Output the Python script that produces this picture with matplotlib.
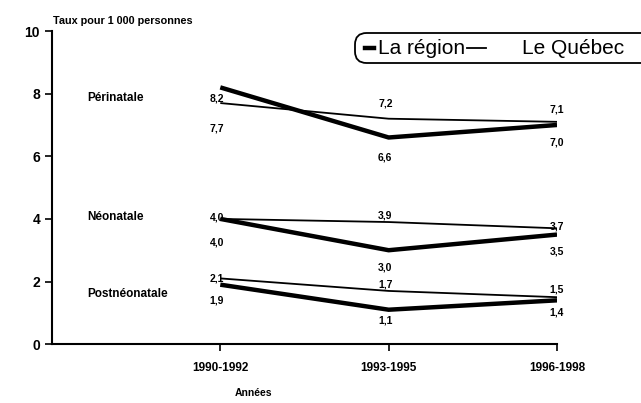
#!/usr/bin/env python3
"""Taux de mortalité périnatale, néonatale et postnéonatale — région vs Québec."""

import matplotlib
matplotlib.use('Agg')
import matplotlib.pyplot as plt
from matplotlib.lines import Line2D
from matplotlib.patches import FancyBboxPatch

plt.rcParams['font.family'] = ['Liberation Sans', 'DejaVu Sans']

# Data
PERIODS = ["1990-1992", "1993-1995", "1996-1998"]
GROUPS = ["Périnatale", "Néonatale", "Postnéonatale"]
REGION = [
    [8.2, 6.6, 7.0],   # périnatale
    [4.0, 3.0, 3.5],   # néonatale
    [1.9, 1.1, 1.4],   # postnéonatale
]
QUEBEC = [
    [7.7, 7.2, 7.1],
    [4.0, 3.9, 3.7],
    [2.1, 1.7, 1.5],
]
Y_TICKS = [0, 2, 4, 6, 8, 10]

# value labels as printed: (text, x index, label y in data units)
VALUE_LABELS = [
    ("8,2", 0, 7.85), ("7,7", 0, 6.9), ("7,2", 1, 7.7), ("6,6", 1, 5.95),
    ("7,1", 2, 7.5), ("7,0", 2, 6.45),
    ("4,0", 0, 4.05), ("4,0", 0, 3.25), ("3,9", 1, 4.1), ("3,0", 1, 2.45),
    ("3,7", 2, 3.75), ("3,5", 2, 2.95),
    ("2,1", 0, 2.1), ("1,9", 0, 1.4), ("1,7", 1, 1.9), ("1,1", 1, 0.75),
    ("1,5", 2, 1.75), ("1,4", 2, 1.0),
]
GROUP_LABEL_Y = [7.85, 4.05, 1.6]

W, H = 641, 403
fig = plt.figure(figsize=(W / 100, H / 100), dpi=100)
ax = fig.add_axes([0.081, 0.146, 0.788, 0.777])

x = [1, 2, 3]
for reg, que in zip(REGION, QUEBEC):
    ax.plot(x, que, color='black', lw=1.3, solid_capstyle='butt')
    ax.plot(x, reg, color='black', lw=3.2, solid_capstyle='butt')

lx = [0.98, 1.98, 3.0]
for txt, i, y in VALUE_LABELS:
    ax.text(lx[i], y, txt, ha='center', va='center', fontsize=7.5,
            fontweight='bold')

for name, y in zip(GROUPS, GROUP_LABEL_Y):
    ax.text(0.21, y, name, ha='left', va='center', fontsize=8.5,
            fontweight='bold')

ax.set_xlim(0, 3)
ax.set_ylim(0, 10)
ax.set_xticks(x)
ax.set_xticklabels(PERIODS, fontsize=8.5, fontweight='bold')
ax.set_yticks(Y_TICKS)
ax.set_yticklabels([str(v) for v in Y_TICKS], fontsize=10, fontweight='bold')
ax.tick_params(axis='both', length=5, width=1.2, direction='out')
ax.tick_params(axis='x', pad=8)
for s in ['top', 'right']:
    ax.spines[s].set_visible(False)
for s in ['left', 'bottom']:
    ax.spines[s].set_linewidth(1.5)

fig.text(0.083, 0.948, "Taux pour 1 000 personnes", fontsize=7.8,
         fontweight='bold', ha='left', va='center')
fig.text(0.395, 0.025, "Années", fontsize=7.5, fontweight='bold',
         ha='center', va='center')

# legend drawn by hand: box runs off the right edge as in the source
def px(xp, yp):
    return xp / W, 1 - yp / H

box_x0, box_y0 = px(355, 63)
box_x1, box_y1 = px(680, 33)
fig.patches.append(FancyBboxPatch(
    (box_x0, box_y0), box_x1 - box_x0, box_y1 - box_y0,
    boxstyle="round,pad=0,rounding_size=0.018", transform=fig.transFigure,
    facecolor='white', edgecolor='black', lw=1.3, mutation_aspect=W / H))
ly = px(0, 48)[1]
fig.add_artist(Line2D([365 / W, 374 / W], [ly, ly], color='black', lw=3.2))
fig.text(378 / W, ly, "La région", fontsize=15, ha='left', va='center')
fig.add_artist(Line2D([467 / W, 486 / W], [ly, ly], color='black', lw=1.3))
fig.text(522 / W, ly, "Le Québec", fontsize=15, ha='left', va='center')

fig.savefig("out.png", dpi=100)
